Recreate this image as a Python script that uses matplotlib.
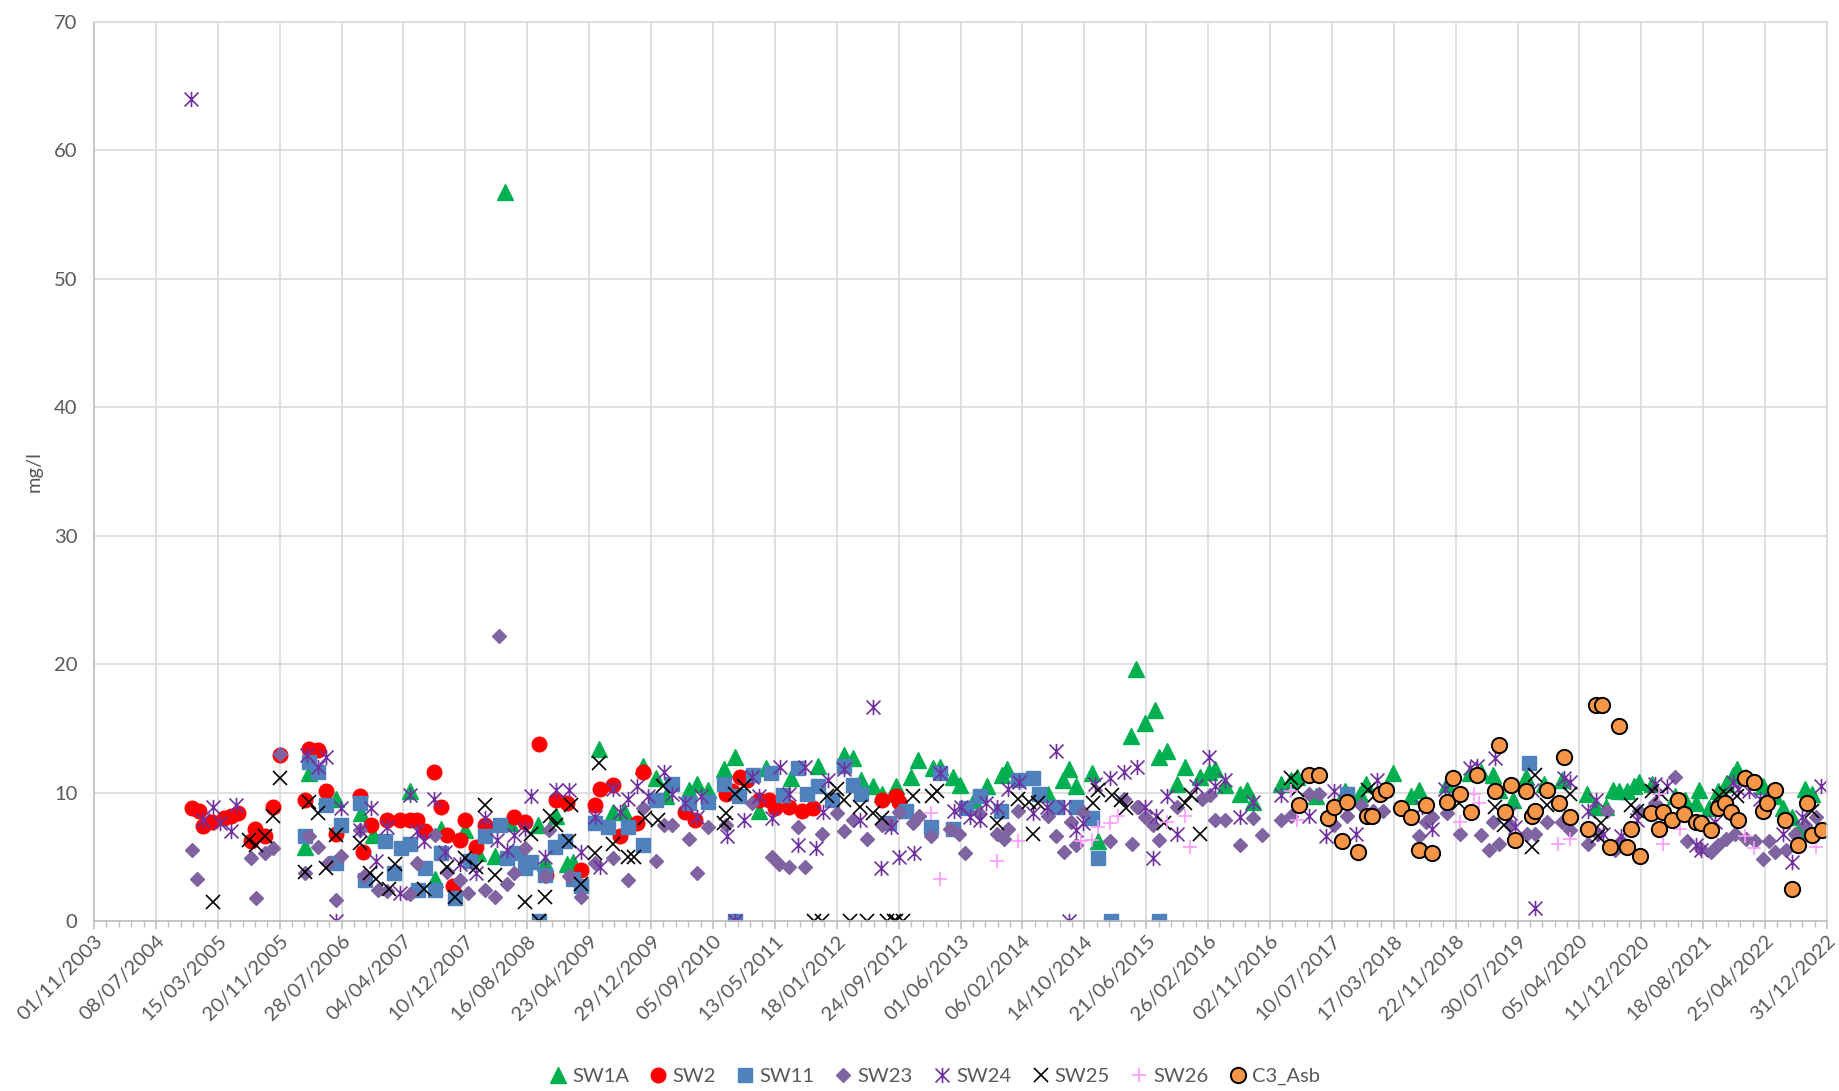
"""Scatter of mg/l readings at each sampling site, 2003-2022."""
import matplotlib
matplotlib.use("Agg")
import matplotlib.pyplot as plt
import matplotlib.dates as mdates
from matplotlib.path import Path
import pandas as pd

plt.rcParams["font.family"] = ["Lato", "DejaVu Sans"]

sw1a_dates = [
    "2006-03-01", "2006-03-20", "2006-05-28", "2006-07-06", "2006-10-15", "2006-12-01",
    "2007-05-01", "2007-08-10", "2007-09-01", "2007-12-10", "2008-02-01", "2008-05-20",
    "2008-04-07", "2008-06-06", "2008-09-28", "2008-10-25", "2008-12-12", "2009-01-22",
    "2009-02-18", "2009-06-01", "2009-07-27", "2009-09-09", "2009-11-27", "2010-01-18",
    "2010-03-01", "2010-06-01", "2010-07-01", "2010-08-15", "2010-10-20", "2010-12-05",
    "2011-03-12", "2011-04-08", "2011-07-18", "2011-11-04", "2012-02-18", "2012-03-22",
    "2012-04-25", "2012-06-12", "2012-07-20", "2012-09-15", "2012-11-15", "2012-12-10",
    "2013-02-10", "2013-03-10", "2013-05-01", "2013-05-28", "2013-07-25", "2013-09-15",
    "2013-11-15", "2013-12-05", "2014-05-20", "2014-07-20", "2014-08-15", "2014-09-10",
    "2014-11-15", "2014-12-08", "2015-04-20", "2015-05-10", "2015-06-15", "2015-07-25",
    "2015-08-10", "2015-09-15", "2015-10-25", "2015-11-25", "2016-01-25", "2016-03-01",
    "2016-03-25", "2016-05-05", "2016-07-05", "2016-08-01", "2016-08-25", "2016-12-15",
    "2017-01-25", "2017-02-20", "2017-05-05", "2017-09-01", "2017-11-01", "2017-11-25",
    "2018-03-15", "2018-05-25", "2018-06-25", "2018-10-20", "2019-01-20", "2019-03-05",
    "2019-04-20", "2019-05-15", "2019-07-10", "2019-09-01", "2019-11-15", "2020-01-25",
    "2020-05-05", "2020-06-10", "2020-07-20", "2020-08-20", "2020-09-10", "2020-10-15",
    "2020-11-10", "2020-12-01", "2021-01-25", "2021-04-25", "2021-06-05", "2021-07-20",
    "2021-08-01", "2021-09-10", "2021-10-15", "2021-11-20", "2021-12-15", "2022-01-01",
    "2022-02-05", "2022-04-15", "2022-06-05", "2022-07-05", "2022-08-10", "2022-09-10",
    "2022-10-05", "2022-10-30",
]
sw1a_vals = [
    5.8, 11.5, 9.7, 9.5, 8.4, 6.7,
    10.1, 3.3, 7.2, 7.1, 5.3, 56.8,
    5.1, 7.6, 7.5, 4.5, 8.2, 4.4,
    4.6, 13.4, 8.5, 8.6, 12.1, 11.1,
    9.7, 10.2, 10.7, 10.2, 11.8, 12.8,
    8.6, 11.9, 11.1, 12.1, 12.9, 12.7,
    11.0, 10.5, 9.9, 10.5, 11.2, 12.5,
    11.9, 12.0, 11.2, 10.6, 9.4, 10.5,
    11.4, 11.8, 9.9, 11.0, 11.8, 10.5,
    11.5, 6.2, 14.4, 19.6, 15.4, 16.4,
    12.8, 13.2, 10.7, 12.0, 11.2, 11.6,
    11.8, 10.6, 9.9, 10.2, 9.3, 10.7,
    11.0, 11.2, 9.7, 10.1, 9.9, 10.7,
    11.5, 9.7, 10.2, 10.7, 11.5, 11.6,
    11.4, 10.2, 9.4, 11.2, 10.7, 11.0,
    9.9, 8.9, 8.9, 10.2, 10.1, 10.1,
    10.5, 10.8, 10.7, 9.7, 9.4, 9.2,
    10.2, 8.8, 10.1, 10.7, 11.4, 11.8,
    11.2, 10.5, 9.7, 8.8, 8.1, 7.1,
    10.3, 9.9,
]

sw2_dates = [
    "2004-12-01", "2004-12-28", "2005-01-15", "2005-02-18", "2005-04-10", "2005-05-09",
    "2005-06-05", "2005-07-27", "2005-08-12", "2005-09-21", "2005-10-25", "2005-11-21",
    "2006-03-01", "2006-03-20", "2006-04-24", "2006-05-28", "2006-07-06", "2006-10-10",
    "2006-10-22", "2006-11-25", "2007-01-27", "2007-03-20", "2007-05-01", "2007-05-27",
    "2007-07-01", "2007-08-04", "2007-09-01", "2007-09-25", "2007-10-22", "2007-11-18",
    "2007-12-07", "2008-01-22", "2008-02-27", "2008-06-25", "2008-08-06", "2008-10-01",
    "2008-11-01", "2008-12-12", "2009-01-22", "2009-03-22", "2009-05-15", "2009-06-06",
    "2009-07-27", "2009-08-25", "2009-11-01", "2009-11-27", "2010-05-15", "2010-06-25",
    "2010-10-28", "2010-11-20", "2010-12-25", "2011-01-20", "2011-03-12", "2011-04-20",
    "2011-05-15", "2011-07-10", "2011-08-30", "2011-10-15", "2012-07-20", "2012-09-15",
    "2012-09-25",
]
sw2_vals = [
    8.8, 8.6, 7.4, 7.7, 8.0, 8.2,
    8.4, 6.2, 7.2, 6.6, 8.9, 12.9,
    9.4, 13.4, 13.3, 10.1, 6.8, 9.7,
    5.4, 7.5, 7.9, 7.9, 7.9, 7.9,
    7.0, 11.6, 8.9, 6.7, 2.7, 6.3,
    7.9, 5.8, 7.5, 8.1, 7.7, 13.8,
    3.6, 9.4, 9.2, 4.0, 9.0, 10.3,
    10.6, 6.6, 7.6, 11.6, 8.5, 7.9,
    9.9, 10.1, 11.2, 11.0, 9.4, 9.4,
    8.8, 8.9, 8.6, 8.8, 9.4, 9.7,
    9.3,
]

sw11_dates = [
    "2006-03-01", "2006-03-20", "2006-04-24", "2006-05-28", "2006-07-06", "2006-07-27",
    "2006-10-10", "2006-11-01", "2007-01-20", "2007-02-25", "2007-03-25", "2007-05-01",
    "2007-06-03", "2007-07-01", "2007-08-10", "2007-09-01", "2007-10-28", "2007-12-28",
    "2008-02-27", "2008-04-28", "2008-05-25", "2008-07-03", "2008-08-06", "2008-09-01",
    "2008-10-01", "2008-10-25", "2008-12-05", "2009-01-15", "2009-02-18", "2009-03-22",
    "2009-05-15", "2009-07-10", "2009-09-25", "2009-11-27", "2010-01-18", "2010-03-25",
    "2010-06-01", "2010-08-15", "2010-10-20", "2010-12-04", "2010-12-20", "2011-02-15",
    "2011-04-28", "2011-06-15", "2011-08-15", "2011-09-20", "2011-11-04", "2011-12-28",
    "2012-02-18", "2012-03-22", "2012-04-25", "2012-08-18", "2012-10-25", "2013-02-01",
    "2013-03-10", "2013-05-01", "2013-06-25", "2013-08-20", "2013-11-10", "2014-01-20",
    "2014-03-20", "2014-04-15", "2014-06-20", "2014-09-10", "2014-11-15", "2014-12-08",
    "2015-01-28", "2015-08-13", "2017-09-10", "2019-09-15",
]
sw11_vals = [
    6.6, 12.4, 11.6, 9.0, 4.5, 7.5,
    9.2, 3.2, 6.2, 3.7, 5.7, 6.0,
    2.4, 4.1, 2.4, 5.3, 1.8, 4.7,
    6.6, 7.5, 4.9, 5.3, 4.1, 4.6,
    0.0, 3.6, 5.8, 6.2, 3.3, 2.7,
    7.6, 7.3, 7.3, 5.9, 9.4, 10.7,
    9.2, 9.3, 10.7, 0.0, 9.7, 11.4,
    11.5, 9.8, 11.9, 9.9, 10.5, 9.4,
    12.1, 10.6, 9.9, 7.6, 8.6, 7.3,
    11.5, 7.2, 8.8, 9.7, 8.6, 11.0,
    11.1, 9.9, 8.9, 8.9, 8.0, 4.9,
    0.0, 0.0, 9.9, 12.3,
]

sw23_dates = [
    "2004-12-01", "2004-12-20", "2005-07-27", "2005-08-15", "2005-09-21", "2005-10-25",
    "2005-11-21", "2006-03-01", "2006-03-20", "2006-04-24", "2006-06-03", "2006-07-06",
    "2006-07-27", "2006-10-10", "2006-10-28", "2006-12-22", "2007-01-27", "2007-05-01",
    "2007-05-27", "2007-08-10", "2007-09-25", "2007-11-18", "2007-12-20", "2008-02-27",
    "2008-04-07", "2008-04-25", "2008-05-25", "2008-06-25", "2008-08-06", "2008-10-25",
    "2008-11-10", "2009-01-30", "2009-03-22", "2009-05-15", "2009-07-27", "2009-09-25",
    "2009-11-27", "2010-01-18", "2010-02-20", "2010-03-25", "2010-06-01", "2010-07-01",
    "2010-08-15", "2010-10-28", "2011-02-10", "2011-05-01", "2011-05-28", "2011-07-10",
    "2011-08-15", "2011-09-10", "2011-11-20", "2012-01-20", "2012-02-18", "2012-03-22",
    "2012-05-20", "2012-07-20", "2012-08-18", "2012-09-25", "2012-11-20", "2012-12-15",
    "2013-02-01", "2013-04-20", "2013-05-25", "2013-06-20", "2013-08-15", "2013-10-25",
    "2013-11-25", "2013-12-10", "2014-01-20", "2014-05-20", "2014-06-20", "2014-07-25",
    "2014-08-20", "2014-09-10", "2014-10-10", "2015-01-25", "2015-03-25", "2015-04-25",
    "2015-05-15", "2015-06-15", "2015-07-20", "2015-08-10", "2015-10-25", "2016-02-01",
    "2016-03-05", "2016-03-25", "2016-05-05", "2016-07-05", "2016-08-25", "2016-10-01",
    "2016-12-15", "2017-01-25", "2017-04-10", "2017-05-20", "2017-07-20", "2017-09-10",
    "2017-11-05", "2017-12-25", "2018-02-01", "2018-06-25", "2018-07-25", "2018-08-20",
    "2018-10-20", "2018-12-10", "2019-03-05", "2019-04-05", "2019-04-20", "2019-05-15",
    "2019-06-30", "2019-09-05", "2019-10-10", "2019-11-25", "2020-01-25", "2020-02-25",
    "2020-05-10", "2020-06-20", "2020-07-25", "2020-08-25", "2020-09-20", "2020-12-01",
    "2021-02-05", "2021-04-25", "2021-06-15", "2021-08-05", "2021-09-20", "2021-10-15",
    "2021-11-20", "2021-12-25", "2022-02-05", "2022-03-15", "2022-04-15", "2022-05-10",
    "2022-06-05", "2022-07-20", "2022-08-25", "2022-10-05", "2022-11-15",
]
sw23_vals = [
    5.5, 3.3, 4.9, 1.8, 5.3, 5.7,
    13.0, 3.7, 6.6, 5.8, 4.5, 1.6,
    5.1, 7.1, 3.5, 2.4, 2.3, 2.1,
    4.5, 6.7, 3.8, 3.2, 2.2, 2.4,
    1.9, 22.2, 2.9, 3.7, 5.7, 3.5,
    7.1, 3.5, 1.9, 4.5, 4.9, 3.2,
    8.8, 4.7, 7.5, 7.5, 6.4, 3.7,
    7.3, 7.5, 9.2, 5.0, 4.4, 4.2,
    7.3, 4.2, 6.8, 8.4, 7.0, 7.9,
    6.4, 7.5, 7.6, 8.5, 7.6, 8.2,
    6.6, 7.2, 6.8, 5.3, 8.4, 6.8,
    6.4, 7.2, 8.6, 8.2, 6.6, 5.4,
    7.7, 5.9, 8.5, 6.2, 9.5, 6.0,
    8.9, 8.1, 7.5, 6.3, 8.9, 9.5,
    9.8, 7.9, 7.9, 5.9, 8.0, 6.7,
    7.9, 8.2, 9.9, 9.9, 7.5, 8.2,
    9.0, 8.6, 8.6, 6.6, 7.7, 8.1,
    8.4, 6.8, 6.7, 5.5, 7.7, 6.0,
    7.5, 6.8, 6.8, 7.7, 7.7, 7.1,
    6.0, 6.8, 8.6, 5.5, 6.2, 8.6,
    9.2, 11.2, 6.2, 5.7, 5.4, 5.9,
    6.4, 6.8, 6.4, 6.2, 4.8, 6.2,
    5.4, 5.5, 6.8, 7.5, 8.1,
]

sw24_dates = [
    "2004-11-28", "2005-01-15", "2005-02-25", "2005-03-22", "2005-05-09", "2005-05-28",
    "2006-03-12", "2006-04-24", "2006-05-28", "2006-07-06", "2006-07-27", "2006-10-10",
    "2006-11-25", "2006-12-15", "2007-01-27", "2007-03-20", "2007-05-01", "2007-05-27",
    "2007-06-25", "2007-08-04", "2007-09-20", "2007-11-18", "2008-01-22", "2008-02-27",
    "2008-04-15", "2008-05-25", "2008-06-25", "2008-08-06", "2008-08-30", "2008-10-25",
    "2008-12-12", "2009-01-30", "2009-03-22", "2009-05-15", "2009-06-06", "2009-07-27",
    "2009-08-25", "2009-09-25", "2009-11-01", "2009-12-15", "2010-02-20", "2010-03-25",
    "2010-05-15", "2010-07-01", "2010-07-20", "2010-11-01", "2010-12-04", "2011-01-10",
    "2011-02-10", "2011-03-12", "2011-05-01", "2011-06-01", "2011-07-10", "2011-08-15",
    "2011-09-10", "2011-10-25", "2011-11-25", "2011-12-15", "2012-02-18", "2012-04-20",
    "2012-06-12", "2012-07-15", "2012-08-25", "2012-09-25", "2012-11-25", "2013-03-10",
    "2013-05-05", "2013-06-05", "2013-07-10", "2013-08-20", "2013-09-10", "2013-10-25",
    "2013-12-10", "2014-01-25", "2014-03-20", "2014-05-15", "2014-06-20", "2014-07-25",
    "2014-08-15", "2014-09-10", "2014-10-10", "2014-11-25", "2015-01-25", "2015-03-25",
    "2015-05-15", "2015-06-15", "2015-07-20", "2015-08-01", "2015-09-15", "2015-10-25",
    "2016-01-10", "2016-03-01", "2016-03-25", "2016-05-05", "2016-07-05", "2016-08-25",
    "2016-12-15", "2017-04-10", "2017-06-15", "2017-07-20", "2017-10-15", "2018-01-10",
    "2018-07-10", "2018-08-20", "2018-10-10", "2019-01-20", "2019-02-15", "2019-05-01",
    "2019-06-30", "2019-07-20", "2019-09-25", "2019-10-10", "2020-02-01", "2020-02-25",
    "2020-05-10", "2020-06-10", "2020-07-10", "2020-09-20", "2020-11-25", "2021-02-05",
    "2021-03-25", "2021-07-20", "2021-08-10", "2021-10-05", "2021-12-15", "2022-01-05",
    "2022-02-20", "2022-04-05", "2022-07-05", "2022-08-10", "2022-09-20", "2022-12-05",
]
sw24_vals = [
    64.0, 7.9, 8.9, 7.6, 7.0, 9.0,
    12.9, 12.0, 12.8, 0.0, 8.8, 7.1,
    8.8, 4.7, 7.3, 2.2, 9.8, 7.0,
    6.2, 9.5, 5.4, 4.4, 3.7, 8.0,
    6.3, 5.5, 6.7, 7.2, 9.7, 5.0,
    10.2, 10.2, 5.4, 8.1, 4.2, 10.3,
    8.5, 9.5, 10.5, 9.7, 11.6, 9.9,
    9.2, 8.1, 9.7, 6.6, 0.0, 7.9,
    11.2, 9.7, 8.0, 12.0, 9.9, 5.9,
    12.0, 5.7, 8.5, 11.0, 11.8, 7.9,
    16.7, 4.1, 7.3, 5.0, 5.3, 11.5,
    8.6, 8.9, 8.1, 7.9, 9.2, 8.9,
    10.3, 10.8, 8.4, 8.9, 13.2, 8.9,
    0.0, 7.1, 7.6, 10.7, 11.1, 11.6,
    12.0, 8.9, 4.9, 8.2, 9.7, 6.8,
    10.5, 12.8, 10.5, 11.0, 8.1, 9.3,
    9.8, 8.2, 6.6, 10.1, 6.8, 11.0,
    8.9, 7.2, 10.3, 11.9, 12.1, 12.7,
    8.4, 7.3, 10.2, 1.0, 11.1, 10.8,
    8.6, 9.4, 6.8, 6.6, 7.9, 10.7,
    10.5, 5.9, 5.5, 7.7, 10.8, 10.3,
    10.1, 9.5, 6.8, 4.6, 8.1, 10.5,
]

sw25_dates = [
    "2005-02-25", "2005-07-20", "2005-08-18", "2005-09-21", "2005-10-25", "2005-11-21",
    "2006-03-01", "2006-03-20", "2006-04-24", "2006-05-28", "2006-07-06", "2006-10-10",
    "2006-11-18", "2006-12-15", "2007-02-03", "2007-03-01", "2007-06-25", "2007-09-25",
    "2007-10-28", "2007-12-07", "2008-01-22", "2008-02-27", "2008-04-07", "2008-08-06",
    "2008-08-30", "2008-10-01", "2008-10-25", "2008-11-15", "2008-12-12", "2009-01-30",
    "2009-02-08", "2009-03-22", "2009-05-15", "2009-06-01", "2009-07-27", "2009-09-25",
    "2009-10-20", "2009-12-05", "2010-01-25", "2010-02-15", "2010-10-20", "2010-10-28",
    "2010-12-05", "2011-01-10", "2011-10-20", "2011-11-18", "2011-12-10", "2012-01-20",
    "2012-02-18", "2012-03-10", "2012-04-20", "2012-05-20", "2012-06-12", "2012-07-20",
    "2012-08-10", "2012-09-06", "2012-09-14", "2012-10-12", "2012-11-20", "2013-02-05",
    "2013-02-25", "2013-10-25", "2014-01-20", "2014-03-05", "2014-03-20", "2014-04-10",
    "2014-11-20", "2014-12-08", "2015-02-01", "2015-03-10", "2015-03-30", "2015-09-01",
    "2015-11-25", "2015-12-20", "2016-01-25", "2017-01-25", "2017-02-20", "2017-12-05",
    "2018-01-01", "2018-12-05", "2019-05-01", "2019-06-05", "2019-09-25", "2019-10-10",
    "2019-11-25", "2020-02-25", "2020-06-20", "2020-07-01", "2020-11-01", "2020-11-25",
    "2021-01-25", "2021-03-01", "2021-10-20", "2021-11-20", "2022-01-01", "2022-11-01",
]
sw25_vals = [
    1.5, 6.3, 5.9, 6.6, 8.2, 11.1,
    3.8, 9.3, 8.4, 4.1, 6.7, 6.1,
    3.7, 3.3, 2.5, 4.4, 2.5, 4.2,
    1.9, 4.9, 4.2, 9.0, 3.6, 1.5,
    6.8, 0.0, 1.9, 8.2, 7.5, 6.2,
    9.0, 2.9, 5.3, 12.3, 6.0, 5.0,
    5.0, 8.0, 7.9, 10.5, 7.6, 8.4,
    9.9, 10.5, 0.0, 0.0, 9.7, 10.3,
    9.4, 0.0, 8.9, 0.0, 8.4, 8.0,
    0.0, 0.0, 0.0, 0.0, 9.7, 9.7,
    10.1, 7.6, 9.5, 9.3, 6.8, 9.2,
    9.2, 10.2, 9.8, 9.4, 8.8, 7.6,
    9.2, 9.8, 6.8, 11.1, 10.2, 10.2,
    9.8, 9.2, 8.9, 7.5, 5.8, 11.4,
    9.0, 9.9, 6.6, 7.6, 9.0, 8.6,
    10.1, 9.9, 9.7, 9.9, 9.7, 8.6,
]

sw26_dates = [
    "2013-02-01", "2013-03-10", "2013-10-25", "2014-01-20", "2014-09-30", "2014-11-15",
    "2014-12-08", "2015-01-25", "2015-03-01", "2015-09-15", "2015-11-25", "2015-12-15",
    "2017-01-25", "2017-02-20", "2018-12-10", "2019-02-05", "2019-02-25", "2020-01-10",
    "2020-02-25", "2021-02-20", "2021-03-10", "2021-05-15", "2022-02-01", "2022-03-10",
    "2022-11-15",
]
sw26_vals = [
    8.4, 3.3, 4.7, 6.2, 6.2, 6.3,
    7.3, 7.6, 8.2, 7.7, 8.2, 5.8,
    10.1, 7.9, 7.7, 9.9, 9.2, 6.0,
    6.4, 9.9, 6.0, 7.2, 6.6, 5.7,
    5.8,
]

c3_dates = [
    "2017-03-01", "2017-04-10", "2017-05-20", "2017-06-25", "2017-07-20", "2017-08-20",
    "2017-09-10", "2017-10-25", "2017-11-30", "2017-12-20", "2018-01-20", "2018-02-15",
    "2018-04-15", "2018-05-25", "2018-06-25", "2018-07-25", "2018-08-20", "2018-10-20",
    "2018-11-10", "2018-12-10", "2019-01-25", "2019-02-15", "2019-05-01", "2019-05-15",
    "2019-06-10", "2019-07-05", "2019-07-20", "2019-09-01", "2019-09-25", "2019-10-10",
    "2019-11-25", "2020-01-15", "2020-02-01", "2020-02-25", "2020-05-10", "2020-06-10",
    "2020-07-05", "2020-08-05", "2020-09-10", "2020-10-15", "2020-10-30", "2020-12-05",
    "2021-01-20", "2021-02-20", "2021-03-10", "2021-04-15", "2021-05-10", "2021-06-01",
    "2021-07-20", "2021-08-10", "2021-09-20", "2021-10-15", "2021-11-15", "2021-12-10",
    "2022-01-05", "2022-02-01", "2022-03-10", "2022-04-15", "2022-05-01", "2022-06-05",
    "2022-07-15", "2022-08-10", "2022-09-05", "2022-10-10", "2022-10-30", "2022-12-10",
]
c3_vals = [
    9.0, 11.4, 11.4, 8.0, 8.9, 6.2,
    9.3, 5.4, 8.2, 8.2, 9.9, 10.2,
    8.8, 8.1, 5.5, 9.0, 5.3, 9.3,
    11.1, 9.9, 8.5, 11.4, 10.1, 13.7,
    8.5, 10.6, 6.3, 10.1, 8.2, 8.6,
    10.2, 9.2, 12.8, 8.1, 7.2, 16.8,
    16.8, 5.8, 15.2, 5.8, 7.2, 5.1,
    8.4, 7.2, 8.5, 7.9, 9.4, 8.3,
    7.7, 7.6, 7.1, 8.8, 9.2, 8.5,
    7.9, 11.1, 10.8, 8.6, 9.2, 10.2,
    7.9, 2.5, 5.9, 9.2, 6.7, 7.1,
]

# Excel-style "star" marker: an x with a vertical bar through it
star = Path(
    [(-1, -1), (1, 1), (-1, 1), (1, -1), (0, -1.1), (0, 1.1)],
    [Path.MOVETO, Path.LINETO, Path.MOVETO, Path.LINETO, Path.MOVETO, Path.LINETO],
)

series = [
    ("SW1A", sw1a_dates, sw1a_vals, dict(marker="^", ms=11, color="#00B050", mec="#00B050")),
    ("SW2", sw2_dates, sw2_vals, dict(marker="o", ms=10.5, color="#FF0000", mec="#FF0000")),
    ("SW11", sw11_dates, sw11_vals, dict(marker="s", ms=10, color="#4F81BD", mec="#4F81BD")),
    ("SW23", sw23_dates, sw23_vals, dict(marker="D", ms=7.6, color="#8064A2", mec="#8064A2")),
    ("SW24", sw24_dates, sw24_vals, dict(marker=star, ms=11, mfc="none", mec="#7030A0", mew=1.2)),
    ("SW25", sw25_dates, sw25_vals, dict(marker="x", ms=10, mec="#000000", mew=1.2)),
    ("SW26", sw26_dates, sw26_vals, dict(marker="+", ms=10.5, mec="#FF99FF", mew=1.2)),
    ("C3_Asb", c3_dates, c3_vals, dict(marker="o", ms=11, color="#F79646", mec="#000000", mew=1.4)),
]

fig = plt.figure(figsize=(18.4, 10.91), dpi=100)
ax = fig.add_axes([94 / 1840, 1 - 921 / 1091, (1827 - 94) / 1840, (921 - 22) / 1091])

for name, dates, vals, style in series:
    ax.plot(pd.to_datetime(dates), vals, linestyle="none", label=name, **style)

text_col = "#595959"
grid_col = "#D9D9D9"

ax.set_ylim(0, 70)
ax.set_yticks(range(0, 71, 10))
ax.set_xlim(pd.Timestamp("2003-11-01"), pd.Timestamp("2022-12-31"))
major = pd.date_range("2003-11-01", "2022-12-31", freq="250D")
minor = pd.date_range("2003-11-01", "2022-12-31", freq="50D")
ax.set_xticks(mdates.date2num(major))
ax.set_xticks(mdates.date2num(minor), minor=True)
ax.xaxis.set_major_formatter(mdates.DateFormatter("%d/%m/%Y"))

ax.grid(True, which="major", color=grid_col, linewidth=1.2)
ax.set_axisbelow(True)
for sp in ax.spines.values():
    sp.set_color(grid_col)
    sp.set_linewidth(1.2)
ax.spines["left"].set_color("#BFBFBF")
ax.spines["bottom"].set_color("#BFBFBF")

ax.tick_params(axis="y", length=0, pad=12, labelsize=14.5, labelcolor=text_col)
ax.tick_params(axis="x", which="major", length=6, width=1.2, color="#BFBFBF",
               labelsize=14.5, labelcolor=text_col, pad=2)
ax.tick_params(axis="x", which="minor", length=4, width=1, color="#BFBFBF")
for lbl in ax.get_xticklabels():
    lbl.set_rotation(45)
    lbl.set_ha("right")
    lbl.set_va("top")
    lbl.set_rotation_mode("anchor")

ax.set_ylabel("mg/l", fontsize=14.5, color=text_col, labelpad=8)

fig.legend(loc="lower center", bbox_to_anchor=(0.507, -0.011), ncol=8, frameon=False,
           fontsize=14.5, labelcolor=text_col, handletextpad=0.1, columnspacing=0.85,
           handlelength=1.2)

fig.savefig("out.png", dpi=100)
